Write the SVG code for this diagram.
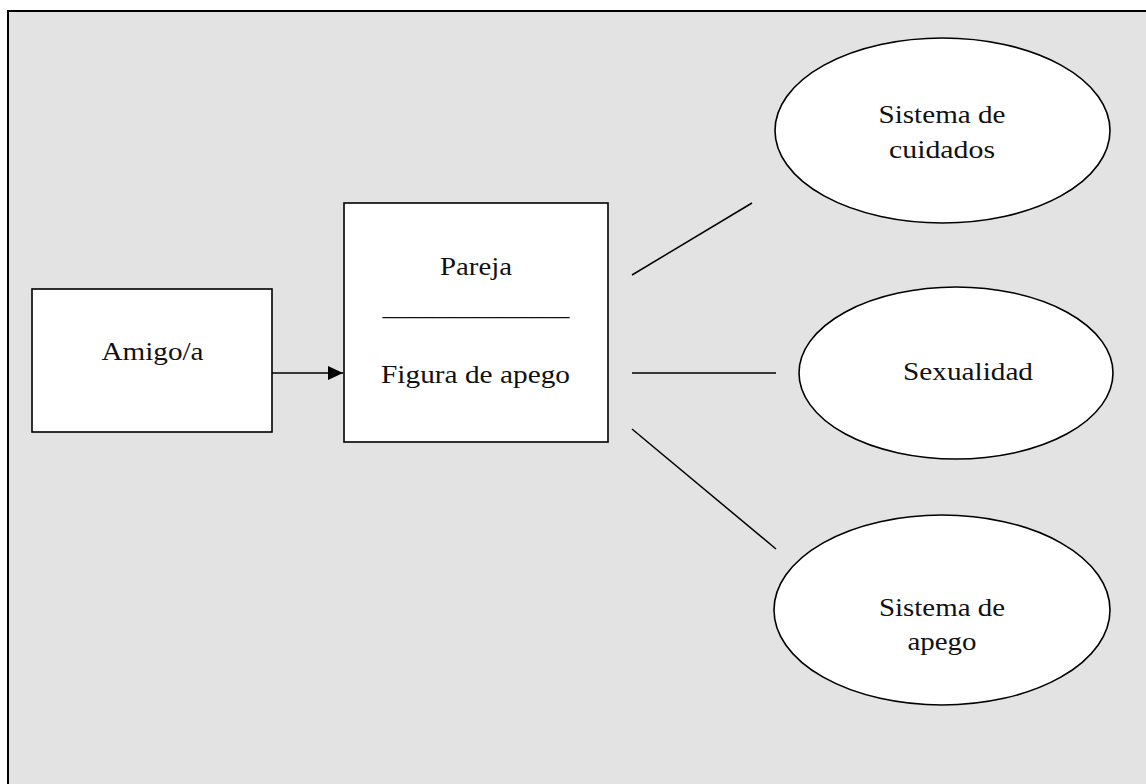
<svg xmlns="http://www.w3.org/2000/svg" width="1146" height="784" viewBox="0 0 1146 784">
  <style>
    .frame { fill: #e3e3e3; stroke: #000; stroke-width: 2; }
    .box { fill: #fff; stroke: #000; stroke-width: 1.6; }
    .link { fill: none; stroke: #000; stroke-width: 1.5; }
    .lbl { font-family: "Liberation Serif", "Times New Roman", serif; font-size: 26px; fill: #111; text-anchor: middle; }
  </style>
  <defs>
    <marker id="arrow" viewBox="0 0 15 14" refX="15" refY="7" markerWidth="15" markerHeight="14" markerUnits="userSpaceOnUse" orient="auto">
      <path d="M0,0 L15,7 L0,14 z" fill="#000"/>
    </marker>
  </defs>

  <!-- background panel (open at right and bottom) -->
  <rect x="0" y="0" width="1146" height="784" fill="#fff"/>
  <rect x="8" y="11" width="1146" height="800" class="frame"/>

  <!-- connectors -->
  <g id="connectors">
    <line class="link" x1="272" y1="373" x2="343" y2="373" marker-end="url(#arrow)"/>
    <line class="link" x1="632" y1="275" x2="752" y2="203"/>
    <line class="link" x1="632" y1="373" x2="776" y2="373"/>
    <line class="link" x1="632" y1="429" x2="776" y2="549"/>
  </g>

  <g id="amigo">
    <rect class="box" x="32" y="289" width="240" height="143"/>
    <text class="lbl" x="152.5" y="360" textLength="102" lengthAdjust="spacingAndGlyphs">Amigo/a</text>
  </g>

  <g id="pareja">
    <rect class="box" x="344" y="203" width="264" height="239"/>
    <text class="lbl" x="476" y="275" textLength="72" lengthAdjust="spacingAndGlyphs">Pareja</text>
    <text class="lbl" x="476" y="315" textLength="187" lengthAdjust="spacingAndGlyphs">_______________</text>
    <text class="lbl" x="475.5" y="383" textLength="189" lengthAdjust="spacingAndGlyphs">Figura de apego</text>
  </g>

  <g id="cuidados">
    <ellipse class="box" cx="942.5" cy="130.5" rx="167.5" ry="92.5"/>
    <text class="lbl" x="942" y="123" textLength="127" lengthAdjust="spacingAndGlyphs">Sistema de</text>
    <text class="lbl" x="942" y="158" textLength="106" lengthAdjust="spacingAndGlyphs">cuidados</text>
  </g>

  <g id="sexualidad">
    <ellipse class="box" cx="956" cy="373" rx="157" ry="86"/>
    <text class="lbl" x="968" y="380" textLength="130" lengthAdjust="spacingAndGlyphs">Sexualidad</text>
  </g>

  <g id="apego">
    <ellipse class="box" cx="942" cy="610" rx="168" ry="95"/>
    <text class="lbl" x="942" y="616" textLength="126" lengthAdjust="spacingAndGlyphs">Sistema de</text>
    <text class="lbl" x="942" y="650" textLength="69" lengthAdjust="spacingAndGlyphs">apego</text>
  </g>
</svg>
